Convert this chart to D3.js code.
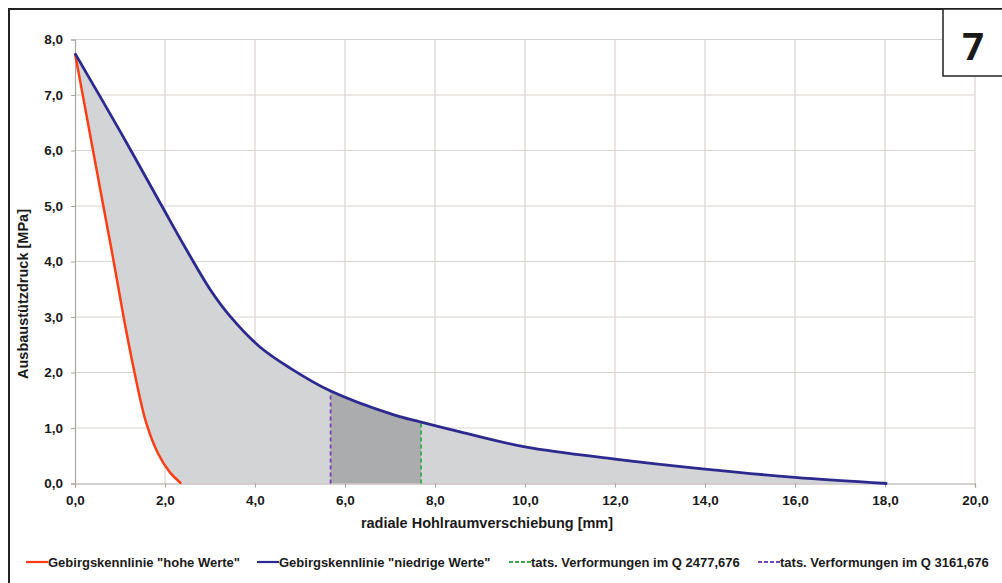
<!DOCTYPE html>
<html>
<head>
<meta charset="utf-8">
<script src="https://cdn.jsdelivr.net/npm/d3@7"></script>
<style>
	body { margin: 0; background: #fff; }
	svg { display: block; font-family: "Liberation Sans", Arial, sans-serif; }
	.tick text { font-weight: bold; font-size: 13.5px; fill: #1a1a1a; }
	.legend text { font-weight: bold; font-size: 13px; fill: #1a1a1a; }
</style>
</head>
<body>
<div id="chart"></div>
<script>

// Gebirgskennlinie "hohe Werte" (red)
var hoheX = [0, 0.63, 0.86, 1.08, 1.31, 1.58, 1.84, 2.11, 2.36];
var hoheY = [7.75, 5.0, 4.0, 3.0, 2.05, 1.1, 0.55, 0.2, 0];

// Gebirgskennlinie "niedrige Werte" (blue)
var niedX = [0, 1.0, 1.93, 2.5, 3.0, 3.44, 4.11, 4.78, 5.67, 7.07, 7.67, 8.56, 10, 12, 14, 16, 18.05];
var niedY = [7.75, 6.35, 5.0, 4.18, 3.5, 3.02, 2.46, 2.08, 1.67, 1.24, 1.11, 0.93, 0.66, 0.44, 0.26, 0.11, 0];

// tats. Verformungen (dashed verticals): x position and height at the curve
var verfName = ["tats. Verformungen im Q 2477,676", "tats. Verformungen im Q 3161,676"];
var verfX = [7.69, 5.68];
var verfTop = [1.10, 1.66];

var xTicks = d3.range(0, 20.01, 2);
var yTicks = d3.range(0, 8.01, 1);

var legendNames = ['Gebirgskennlinie "hohe Werte"', 'Gebirgskennlinie "niedrige Werte"'].concat(verfName);

var W = 1002, H = 583;
var svg = d3.select("#chart").append("svg").attr("width", W).attr("height", H);

var x = d3.scaleLinear([0, 20], [75, 975]);
var y = d3.scaleLinear([0, 8], [483.5, 39.5]);
var fmt = d => d3.format(".1f")(d).replace(".", ",");

var hohe = hoheX.map((d, i) => ({ x: d, y: hoheY[i] }));
var nied = niedX.map((d, i) => ({ x: d, y: niedY[i] }));

// outer frame
svg.append("path")
	.attr("d", `M9,${H + 5} V9 H${W + 5}`)
	.attr("fill", "none").attr("stroke", "#222").attr("stroke-width", 2);

// grid
var grid = svg.append("g").attr("stroke", "#d9d3d0").attr("stroke-width", 1.2);
grid.selectAll(".gx").data(xTicks.slice(1)).join("line")
	.attr("x1", d => x(d)).attr("x2", d => x(d)).attr("y1", y(0)).attr("y2", y(8));
grid.selectAll(".gy").data(yTicks.slice(1)).join("line")
	.attr("x1", x(0)).attr("x2", x(20)).attr("y1", d => y(d)).attr("y2", d => y(d));

var curve = d3.curveCatmullRom.alpha(0.5);
var area = d3.area().x(d => x(d.x)).y0(y(0)).y1(d => y(d.y)).curve(curve);
var line = d3.line().x(d => x(d.x)).y(d => y(d.y)).curve(curve);

var defs = svg.append("defs");
var mask = defs.append("mask").attr("id", "between");
mask.append("path").attr("d", area(nied)).attr("fill", "#fff");
mask.append("path").attr("d", area(hohe)).attr("fill", "#000");

defs.append("clipPath").attr("id", "darkclip")
	.append("rect")
	.attr("x", x(verfX[1])).attr("width", x(verfX[0]) - x(verfX[1]))
	.attr("y", y(8)).attr("height", y(0) - y(8));

svg.append("path").attr("d", area(nied)).attr("fill", "#d2d4d6").attr("mask", "url(#between)");
svg.append("path").attr("d", area(nied)).attr("fill", "#aaacae").attr("clip-path", "url(#darkclip)");

// axes
svg.append("g").attr("class", "xaxis")
	.attr("transform", `translate(0,${y(0)})`)
	.call(d3.axisBottom(x).tickValues(xTicks).tickFormat(fmt).tickSize(4).tickPadding(8));
svg.append("g").attr("class", "yaxis")
	.attr("transform", `translate(${x(0)},0)`)
	.call(d3.axisLeft(y).tickValues(yTicks).tickFormat(fmt).tickSize(4).tickPadding(8));
svg.selectAll(".domain").attr("stroke", "#a9a4a2").attr("stroke-width", 1.2);
svg.selectAll(".tick line").attr("stroke", "#a9a4a2");

// dashed verticals
var verfColor = ["#3aa84a", "#7442b8"];
svg.selectAll(".verf").data(verfX).join("line")
	.attr("class", "verf")
	.attr("x1", d => x(d)).attr("x2", d => x(d))
	.attr("y1", y(0)).attr("y2", (d, i) => y(verfTop[i]))
	.attr("stroke", (d, i) => verfColor[i])
	.attr("stroke-width", 1.8)
	.attr("stroke-dasharray", "4,3");

// curves
svg.append("path").attr("d", line(hohe)).attr("fill", "none").attr("stroke", "#ff3d14").attr("stroke-width", 2.5);
svg.append("path").attr("d", line(nied)).attr("fill", "none").attr("stroke", "#2c2a8e").attr("stroke-width", 2.8);

// axis titles
svg.append("text")
	.attr("x", 487).attr("y", 528)
	.attr("text-anchor", "middle")
	.attr("font-weight", "bold").attr("font-size", 14.5).attr("fill", "#1a1a1a")
	.text("radiale Hohlraumverschiebung [mm]");
svg.append("text")
	.attr("transform", "translate(28,294) rotate(-90)")
	.attr("text-anchor", "middle")
	.attr("font-weight", "bold").attr("font-size", 14.5).attr("fill", "#1a1a1a")
	.text("Ausbaustützdruck [MPa]");

// legend
var legColor = ["#ff3d14", "#2c2a8e"].concat(verfColor);
var legX = [26, 257, 509, 758];
var leg = svg.append("g").attr("class", "legend");
legendNames.forEach((name, i) => {
	leg.append("line")
		.attr("x1", legX[i]).attr("x2", legX[i] + 22)
		.attr("y1", 562).attr("y2", 562)
		.attr("stroke", legColor[i]).attr("stroke-width", 2.2)
		.attr("stroke-dasharray", i > 1 ? "4,2" : null);
	leg.append("text")
		.attr("x", legX[i] + 22).attr("y", 567)
		.text(name);
});

// figure number box
svg.append("rect")
	.attr("x", 943).attr("y", 9).attr("width", 70).attr("height", 67)
	.attr("fill", "#fff").attr("stroke", "#222").attr("stroke-width", 1.5);
svg.append("text")
	.attr("x", 973).attr("y", 60)
	.attr("text-anchor", "middle")
	.attr("font-family", "'Open Sans', 'DejaVu Sans', sans-serif")
	.attr("font-weight", "bold").attr("font-size", 38).attr("fill", "#1a1a1a")
	.text("7");

</script>
</body>
</html>
